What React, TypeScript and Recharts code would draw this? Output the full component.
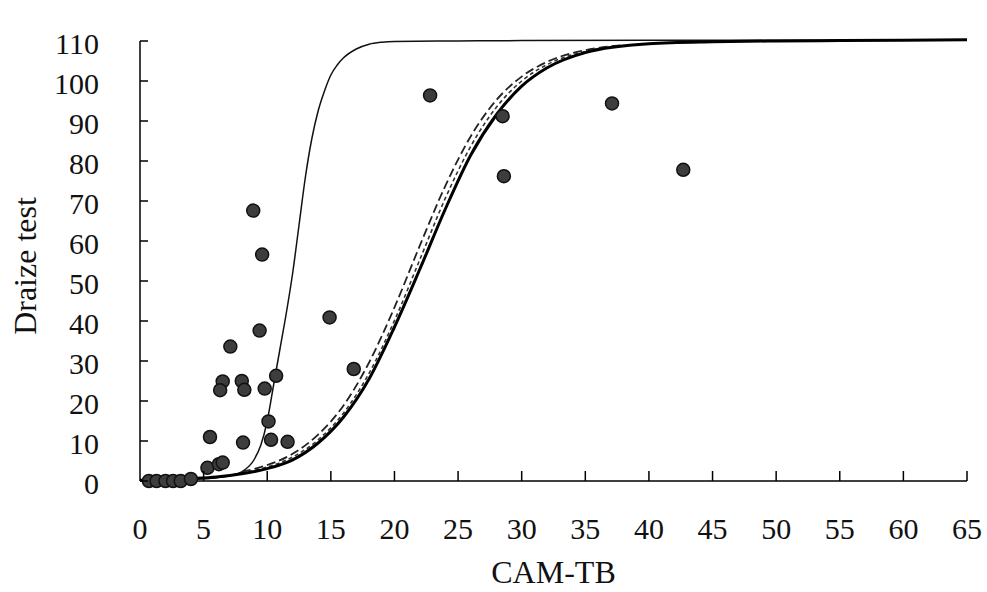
import React from "react";
import {
  ComposedChart,
  Line,
  Scatter,
  XAxis,
  YAxis,
  ReferenceLine,
} from "recharts";

// ---- Data ----
const xTicks = [0, 5, 10, 15, 20, 25, 30, 35, 40, 45, 50, 55, 60, 65];
const yTicks = [0, 10, 20, 30, 40, 50, 60, 70, 80, 90, 100, 110];

// observed points (CAM-TB, Draize)
const obsX = [0.7, 1.3, 2.0, 2.6, 3.2, 4.0, 5.3, 6.2, 6.5, 5.5, 8.1, 10.3, 11.6, 10.1, 6.5, 6.3, 8.0, 8.2, 9.8, 10.7, 7.1, 9.4, 14.9, 16.8, 8.9, 9.6, 22.8, 28.5, 28.6, 37.1, 42.7];
const obsY = [0, 0, 0, 0, 0, 0.5, 3.3, 4.2, 4.6, 11, 9.6, 10.3, 9.8, 14.9, 24.9, 22.7, 25, 22.8, 23.1, 26.3, 33.6, 37.6, 40.9, 28, 67.6, 56.6, 96.4, 91.2, 76.2, 94.4, 77.8];

// steep thin curve
const thinX = [0, 2, 4, 6, 7, 8, 9, 9.5, 10, 10.5, 11, 11.5, 12, 12.5, 13, 13.5, 14, 14.5, 15, 15.5, 16, 17, 18, 19, 20, 25, 30, 40, 50, 65];
const thinY = [0.1, 0.2, 0.4, 0.8, 1.3, 2.3, 5.5, 9, 15, 24, 33, 42, 52, 64, 76, 85.5, 92.5, 97.5, 101.5, 104, 105.8, 108, 109.2, 109.7, 109.9, 110, 110.1, 110.2, 110.2, 110.3];

// thick solid curve
const thickX = [0, 2, 4, 6, 8, 10, 12, 14, 16, 18, 20, 22, 24, 26, 28, 30, 32, 35, 40, 45, 50, 55, 60, 65];
const thickY = [0.2, 0.3, 0.6, 1.0, 1.8, 3.1, 5.3, 9.5, 16, 25.5, 38.5, 53, 68, 81.5, 91.5, 98.7, 103.3, 107.1, 109.3, 109.8, 110, 110.1, 110.2, 110.3];

// dashed curves
const dashX = [8, 10, 12, 14, 16, 18, 20, 22, 24, 26, 28, 30, 32, 35, 38];
const longDashY = [2.3, 4.0, 6.8, 11.6, 18.9, 29.6, 43.4, 58.9, 73.8, 86.2, 95.2, 101.1, 104.8, 107.7, 109];
const shortDashY = [2.0, 3.5, 6.0, 10.3, 17.0, 26.9, 40.1, 55.4, 70.7, 83.7, 93.4, 100, 104.1, 107.4, 108.9];

const zip = (xs: number[], ys: number[]) => xs.map((x, i) => ({ x, y: ys[i] }));
const obsData = zip(obsX, obsY);
const thinData = zip(thinX, thinY);
const thickData = zip(thickX, thickY);
const longDashData = zip(dashX, longDashY);
const shortDashData = zip(dashX, shortDashY);

const FONT = '"Liberation Serif", "Times New Roman", serif';

const XTick = (props: any) => {
  const { x, y, payload } = props;
  return (
    <g>
      {payload.value !== 0 && (
        <line x1={x} y1={y} x2={x} y2={y - 10} stroke="#000" strokeWidth={1.5} />
      )}
      <text x={x} y={y + 58} textAnchor="middle" fontSize={30} fontFamily={FONT} fill="#111">
        {payload.value}
      </text>
    </g>
  );
};

const YTick = (props: any) => {
  const { x, y, payload } = props;
  return (
    <g>
      <line x1={x} y1={y} x2={x + 8} y2={y} stroke="#000" strokeWidth={1.5} />
      <text x={x - 41} y={y + 2} textAnchor="end" dominantBaseline="central" fontSize={30} fontFamily={FONT} fill="#111">
        {payload.value}
      </text>
    </g>
  );
};

function XTitle(props: any) {
  const vb = props.viewBox;
  return (
    <text x={vb.x + vb.width / 2} y={vb.y + 102} textAnchor="middle" fontSize={32} fontFamily={FONT} fill="#111">
      CAM-TB
    </text>
  );
}

function YTitle(props: any) {
  const vb = props.viewBox;
  const cx = vb.x + 25;
  const cy = 266;
  return (
    <text x={cx} y={cy} transform={`rotate(-90, ${cx}, ${cy})`} textAnchor="middle" dominantBaseline="central" fontSize={32} fontFamily={FONT} fill="#111">
      Draize test
    </text>
  );
}

const Dot = (props: any) => (
  <circle cx={props.cx} cy={props.cy} r={6.5} fill="#3d3d3d" stroke="#111" strokeWidth={1.5} />
);

export default function App() {
  return (
    <div style={{ position: "fixed", left: 0, top: 0, width: 987, height: 592, background: "#fff" }}>
      <ComposedChart
        width={987}
        height={592}
        margin={{ top: 33, right: 20, bottom: 71, left: 0 }}
      >
        <XAxis
          type="number"
          dataKey="x"
          domain={[0, 65]}
          ticks={xTicks}
          interval={0}
          axisLine={{ stroke: "#000", strokeWidth: 1.5 }}
          tickLine={false}
          tickSize={0}
          tickMargin={0}
          height={40}
          tick={<XTick />}
          label={<XTitle />}
        />
        <YAxis
          type="number"
          dataKey="y"
          domain={[0, 112]}
          ticks={yTicks}
          interval={0}
          axisLine={false}
          tickLine={false}
          tickSize={0}
          tickMargin={0}
          width={140}
          tick={<YTick />}
          label={<YTitle />}
        />
        <ReferenceLine segment={[{ x: 0, y: 0 }, { x: 0, y: 110 }]} stroke="#000" strokeWidth={1.5} />
        <Line data={thinData} dataKey="y" type="monotone" stroke="#111" strokeWidth={1.5} dot={false} isAnimationActive={false} />
        <Line data={longDashData} dataKey="y" type="monotone" stroke="#222" strokeWidth={1.8} strokeDasharray="9 4" dot={false} isAnimationActive={false} />
        <Line data={shortDashData} dataKey="y" type="monotone" stroke="#333" strokeWidth={1.6} strokeDasharray="4 3" dot={false} isAnimationActive={false} />
        <Line data={thickData} dataKey="y" type="monotone" stroke="#000" strokeWidth={3} dot={false} isAnimationActive={false} />
        <Scatter data={obsData} dataKey="y" shape={<Dot />} isAnimationActive={false} />
      </ComposedChart>
    </div>
  );
}
